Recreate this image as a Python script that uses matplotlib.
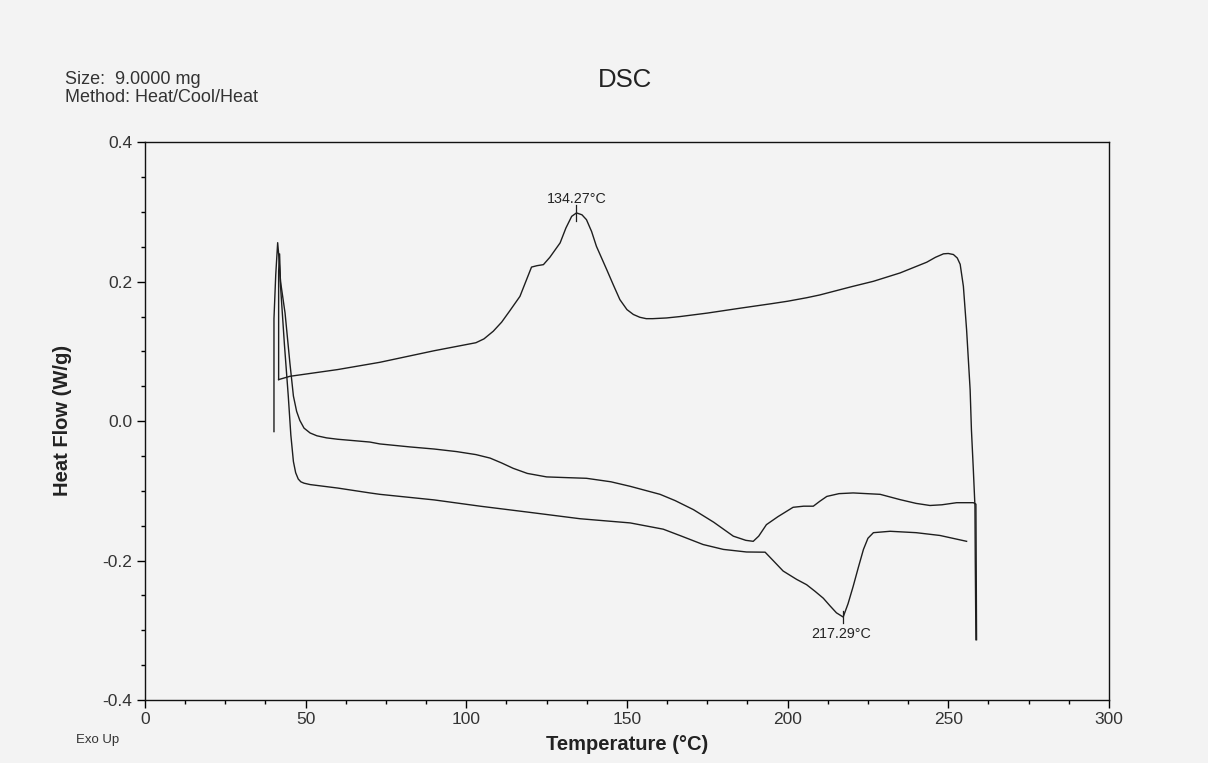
import matplotlib
matplotlib.use("Agg")
import matplotlib.pyplot as plt
from matplotlib.ticker import MultipleLocator

plt.rcParams['font.family'] = ['Liberation Sans', 'DejaVu Sans']

# ---------------- data ----------------
heat1_T = [40.15, 40.15, 40.7, 41.3, 41.6, 42.2, 43.6, 45.1, 46.2, 47.2, 48.2, 49.5, 51.4,
           53.5, 56.5, 60, 63.8, 70, 73.1, 82.5, 90, 97, 103, 107.4, 111, 114.6, 119, 125,
           131, 137.4, 145, 151, 160.3, 165, 170.7, 177, 183.1, 187, 189.3, 191, 193.4,
           197, 201.7, 205, 208, 210, 212.2, 216, 220.4, 228.8, 235, 240, 244.3, 248,
           252.6, 257.8, 258.6, 258.8]
heat1_HF = [-0.015, 0.147, 0.21, 0.256, 0.24, 0.2, 0.155, 0.0835, 0.036, 0.014, 0.001,
            -0.010, -0.017, -0.021, -0.024, -0.026, -0.0275, -0.030, -0.0327, -0.037,
            -0.040, -0.0437, -0.048, -0.053, -0.060, -0.0677, -0.075, -0.080, -0.081,
            -0.082, -0.087, -0.0935, -0.105, -0.114, -0.127, -0.145, -0.165, -0.171,
            -0.1724, -0.165, -0.1485, -0.137, -0.1236, -0.122, -0.122, -0.115, -0.108,
            -0.104, -0.103, -0.105, -0.1126, -0.118, -0.121, -0.120, -0.117, -0.117,
            -0.119, -0.3135]

cool_T = [258.6, 258.4, 258.3, 257.8, 257.2, 256.8, 255.7, 254.7, 253.7, 252.8, 251.6,
          250, 248.5, 246, 243.3, 235, 226.7, 220, 215, 210, 205.9, 200, 195, 185.2, 175,
          166.5, 162.3, 158, 156, 154, 152, 150, 147.8, 145.8, 143.7, 140.5, 139, 137.4,
          136, 134.3, 132.8, 131, 129.2, 126, 124, 122, 120.3, 118.5, 116.7, 113.5, 111,
          108.4, 105.5, 103, 90, 73.1, 60, 45.1, 41.6]
cool_HF = [-0.3135, -0.20, -0.122, -0.070, -0.012, 0.045, 0.131, 0.1934, 0.225, 0.234,
           0.239, 0.2405, 0.240, 0.235, 0.228, 0.2126, 0.2006, 0.193, 0.187, 0.181, 0.177,
           0.172, 0.1685, 0.162, 0.155, 0.150, 0.148, 0.147, 0.147, 0.149, 0.153, 0.160,
           0.1743, 0.195, 0.2174, 0.2508, 0.272, 0.289, 0.296, 0.2987, 0.2938, 0.277,
           0.2557, 0.235, 0.2245, 0.223, 0.221, 0.20, 0.179, 0.158, 0.142, 0.129, 0.118,
           0.1125, 0.101, 0.0844, 0.074, 0.0643, 0.0596]

heat2_T = [41.6, 41.6, 41.9, 42.2, 43.4, 44.6, 45.4, 46.2, 46.9, 47.7, 48.5, 49.5, 51.4,
           60, 70, 73.1, 90, 104.3, 120, 135.4, 151, 161.3, 167, 173.7, 180, 187.2, 193,
           195.5, 198.6, 202.8, 205.9, 208.5, 211.1, 213.2, 215.2, 217.29, 218.8, 220.4,
           222, 223.6, 225, 226.7, 231.9, 240, 247.4, 255.7]
heat2_HF = [0.0596, 0.215, 0.24, 0.193, 0.11, 0.036, -0.02, -0.058, -0.074, -0.083, -0.087,
            -0.089, -0.091, -0.096, -0.103, -0.105, -0.113, -0.122, -0.131, -0.140, -0.146,
            -0.155, -0.165, -0.177, -0.184, -0.1877, -0.188, -0.200, -0.215, -0.227,
            -0.2346, -0.244, -0.254, -0.265, -0.275, -0.281, -0.262, -0.237, -0.21, -0.184,
            -0.168, -0.160, -0.158, -0.160, -0.164, -0.1724]

peak_T = [134.27, 217.29]
peak_HF = [0.2987, -0.281]
peak_labels = ["134.27°C", "217.29°C"]

x_ticks = [0, 50, 100, 150, 200, 250, 300]
y_ticks = [-0.4, -0.2, 0.0, 0.2, 0.4]
y_tick_labels = ["-0.4", "-0.2", "0.0", "0.2", "0.4"]

# ---------------- figure ----------------
bg = '#f3f3f3'
fig = plt.figure(figsize=(12.08, 7.63), dpi=100, facecolor=bg)
ax = fig.add_axes([0.1200, 0.0826, 0.7980, 0.7309], facecolor=bg)

lc = '#1e1e1e'
for T, H in ((heat1_T, heat1_HF), (cool_T, cool_HF), (heat2_T, heat2_HF)):
    ax.plot(T, H, color=lc, lw=1.0, solid_joinstyle='round')

# peak markers and labels
ax.plot([peak_T[0], peak_T[0]], [peak_HF[0] - 0.011, peak_HF[0] + 0.011], color=lc, lw=0.9)
ax.plot([peak_T[1], peak_T[1]], [peak_HF[1] - 0.009, peak_HF[1] + 0.009], color=lc, lw=0.9)
ax.text(peak_T[0], 0.3188, peak_labels[0], ha='center', va='center', fontsize=10.3, color='#222222')
ax.text(peak_T[1] - 0.5, -0.306, peak_labels[1], ha='center', va='center', fontsize=10.3, color='#222222')

ax.set_xlim(0, 300)
ax.set_ylim(-0.4, 0.4)
ax.set_xticks(x_ticks)
ax.set_yticks(y_ticks)
ax.set_yticklabels(y_tick_labels)
ax.xaxis.set_minor_locator(MultipleLocator(12.5))
ax.yaxis.set_minor_locator(MultipleLocator(0.05))
ax.tick_params(which='major', direction='out', length=6, width=1.0, labelsize=12.5,
               labelcolor='#333333', pad=3)
ax.tick_params(which='minor', direction='out', length=3, width=1.0)
for s in ax.spines.values():
    s.set_linewidth(1.0)
    s.set_color('#111111')

# texts
fig.text(65 / 1208, 1 - 80 / 763, "Size:  9.0000 mg", fontsize=13, color='#333333',
         ha='left', va='center')
fig.text(65 / 1208, 1 - 97 / 763, "Method: Heat/Cool/Heat", fontsize=13, color='#333333',
         ha='left', va='center')
fig.text(625 / 1208, 1 - 80 / 763, "DSC", fontsize=18.5, color='#222222', ha='center', va='center')
fig.text(62 / 1208, 1 - 420 / 763, "Heat Flow (W/g)", fontsize=14.5, fontweight='bold',
         color='#222222', rotation=90, ha='center', va='center')
fig.text(627 / 1208, 1 - 745 / 763, "Temperature (°C)", fontsize=14.5, fontweight='bold',
         color='#222222', ha='center', va='center')
fig.text(76 / 1208, 1 - 740 / 763, "Exo Up", fontsize=9.5, color='#333333', ha='left', va='center')

fig.savefig("out.png", dpi=100, facecolor=bg)
